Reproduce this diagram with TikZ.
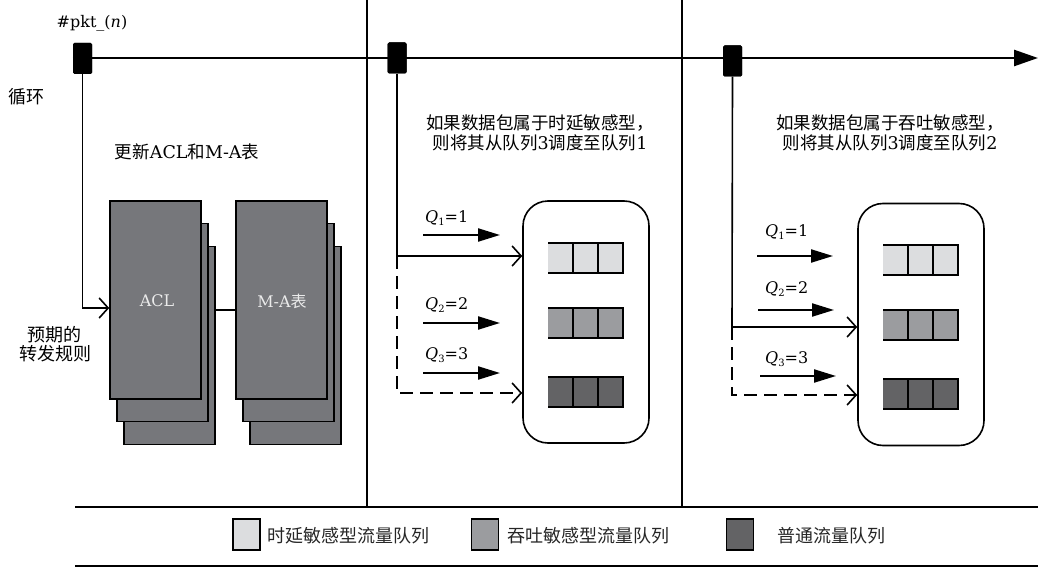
\documentclass[tikz,border=0pt]{standalone}
\usepackage{fontspec}
\setmainfont{DejaVu Serif}
\newfontfamily\cjk{Noto Sans CJK SC}
\usetikzlibrary{arrows.meta}
\definecolor{stackgray}{HTML}{76777B}
\definecolor{qlight}{HTML}{DCDDDF}
\definecolor{qmid}{HTML}{9B9C9F}
\definecolor{qdark}{HTML}{636365}
\newcommand\qlab[2]{\textit{Q}\raisebox{-0.45ex}{\fontsize{10pt}{10pt}\selectfont #1}=#2}
\tikzset{
  cjktxt/.style={inner sep=0pt, font=\cjk\fontsize{17.5pt}{20pt}\selectfont},
  legtxt/.style={inner sep=0pt, anchor=west, font=\cjk\fontsize{18pt}{20pt}\selectfont, text=black!85},
  lat/.style={inner sep=0pt, font=\fontsize{16pt}{19pt}\selectfont},
  layer/.style={draw=black, line width=1.5pt, fill=stackgray, minimum width=91pt, minimum height=198pt, inner sep=0pt},
  pkt/.style={fill=black, rounded corners=1.5pt, minimum width=19pt, minimum height=31pt, inner sep=0pt},
  conn/.style={line width=1.6pt},
  dconn/.style={line width=1.6pt, dash pattern=on 13pt off 7pt},
  openarrow/.style={-{Straight Barb[length=9pt,width=20pt]}},
  qarrow/.style={line width=2.2pt, -{Triangle[length=22pt,width=13pt]}},
  legbox/.style={draw=black, line width=1.6pt, minimum width=27pt, minimum height=31pt, inner sep=0pt},
  rbox/.style={draw=black, line width=1.6pt, rounded corners=25pt, minimum width=126pt, minimum height=242pt, inner sep=0pt},
  queue/.pic={
    \fill[#1] (0,0) rectangle (75,30);
    \draw[line width=1.6pt] (0,0) -- (75,0) -- (75,30) -- (0,30)
      (25,0) -- (25,30) (50,0) -- (50,30);
  }
}
\begin{document}
\begin{tikzpicture}[x=1pt,y=-1pt]
\useasboundingbox (0,0) rectangle (1059,575);

% dividers
\draw[conn] (367,0) coordinate (d1t) -- (367,507) coordinate (d1b);
\draw[conn] (682,0) coordinate (d2t) -- (682,507) coordinate (d2b);

% packets and timeline
\node[pkt] (p1) at (82.5,58.5) {};
\node[pkt] (p2) at (397,58) {};
\node[pkt] (p3) at (732.5,61) {};
\coordinate (tend) at (1038,58);
\draw[line width=2.6pt, -{Triangle[length=24pt,width=16pt]}] (p1.west |- 0,58) -- (tend);
\node[pkt] at (82.5,58.5) {};
\node[pkt] at (397,58) {};
\node[pkt] at (732.5,61) {};

\node[lat] (pktlabel) at (92,23) {\#pkt\_(\textit{n})};
\node[cjktxt, anchor=west, font=\cjk\fontsize{18pt}{20pt}\selectfont] (loop) at (8,97) {循环};

% left panel
\node[cjktxt] (upd) at (187,152) {更新{\rmfamily ACL}和{\rmfamily M-A}表};

\node[layer] (acl3) at (169.5,345.5) {};
\node[layer] (acl2) at (162.5,322.5) {};
\node[layer] (acl1) at (155.5,300) {};
\node[lat, text=black!8] (acltxt) at (157,301) {ACL};

\node[layer] (ma3) at (295.5,345.5) {};
\node[layer] (ma2) at (288.5,322.5) {};
\node[layer] (ma1) at (281.5,300) {};
\node[lat, text=black!8] (matxt) at (282,301) {M-A{\cjk 表}};

\draw[conn] (acl3.east |- 0,310) -- (ma1.west |- 0,310);
\draw[conn, openarrow] (p1.south) |- (acl1.west |- 0,308);

\node[cjktxt, align=center, font=\cjk\fontsize{18pt}{18.5pt}\selectfont] (rule) at (55,344) {预期的\\转发规则};

% middle panel
\node[cjktxt, align=center] (t2) at (540,133) {如果数据包属于时延敏感型，\\则将其从队列{\rmfamily 3}调度至队列{\rmfamily 1}};
\node[rbox] (box2) at (586,322) {};
\pic at (548,243) {queue=qlight};
\pic at (548,308) {queue=qmid};
\pic at (548,377) {queue=qdark};
\coordinate (m1) at (397,256);
\draw[conn] (p2.south) -- (m1);
\draw[conn, openarrow] (m1) -- (box2.west |- m1);
\draw[dconn, openarrow] (m1) |- (box2.west |- 0,393);

\node[lat, anchor=west] (mq1) at (425,218) {\qlab{1}{1}};
\node[lat, anchor=west] (mq2) at (425,305) {\qlab{2}{2}};
\node[lat, anchor=west] (mq3) at (425,355) {\qlab{3}{3}};
\coordinate (ma1s) at (423,235); \coordinate (ma1e) at (500,235);
\coordinate (ma2s) at (423,323); \coordinate (ma2e) at (500,323);
\coordinate (ma3s) at (423,373); \coordinate (ma3e) at (500,373);
\draw[qarrow] (ma1s) -- (ma1e);
\draw[qarrow] (ma2s) -- (ma2e);
\draw[qarrow] (ma3s) -- (ma3e);

% right panel
\node[cjktxt, align=center] (t3) at (890,133) {如果数据包属于吞吐敏感型，\\则将其从队列{\rmfamily 3}调度至队列{\rmfamily 2}};
\node[rbox] (box3) at (921,324.5) {};
\pic at (883,245) {queue=qlight};
\pic at (883,310) {queue=qmid};
\pic at (883,379) {queue=qdark};
\coordinate (r1) at (732,327);
\draw[conn] (p3.south) -- (r1);
\draw[conn, openarrow] (r1) -- (box3.west |- r1);
\draw[dconn, openarrow] (r1) |- (box3.west |- 0,395);

\node[lat, anchor=west] (rq1) at (765,232) {\qlab{1}{1}};
\node[lat, anchor=west] (rq2) at (765,289) {\qlab{2}{2}};
\node[lat, anchor=west] (rq3) at (765,359) {\qlab{3}{3}};
\coordinate (ra1s) at (757,256); \coordinate (ra1e) at (833,256);
\coordinate (ra2s) at (758,310); \coordinate (ra2e) at (834,310);
\coordinate (ra3s) at (760,376); \coordinate (ra3e) at (836,376);
\draw[qarrow] (ra1s) -- (ra1e);
\draw[qarrow] (ra2s) -- (ra2e);
\draw[qarrow] (ra3s) -- (ra3e);

% legend
\draw[line width=2.5pt] (75,507) coordinate (lt1) -- (1038,507) coordinate (lt2);
\draw[line width=2.5pt] (75,566) coordinate (lb1) -- (1038,566) coordinate (lb2);
\node[legbox, fill=qlight] (lg1) at (246.5,534.5) {};
\node[legtxt] (lgt1) at (267,536) {时延敏感型流量队列};
\node[legbox, fill=qmid] (lg2) at (485,534.5) {};
\node[legtxt] (lgt2) at (507,536) {吞吐敏感型流量队列};
\node[legbox, fill=qdark] (lg3) at (740,534.5) {};
\node[legtxt] (lgt3) at (777,536) {普通流量队列};
\end{tikzpicture}
\end{document}
